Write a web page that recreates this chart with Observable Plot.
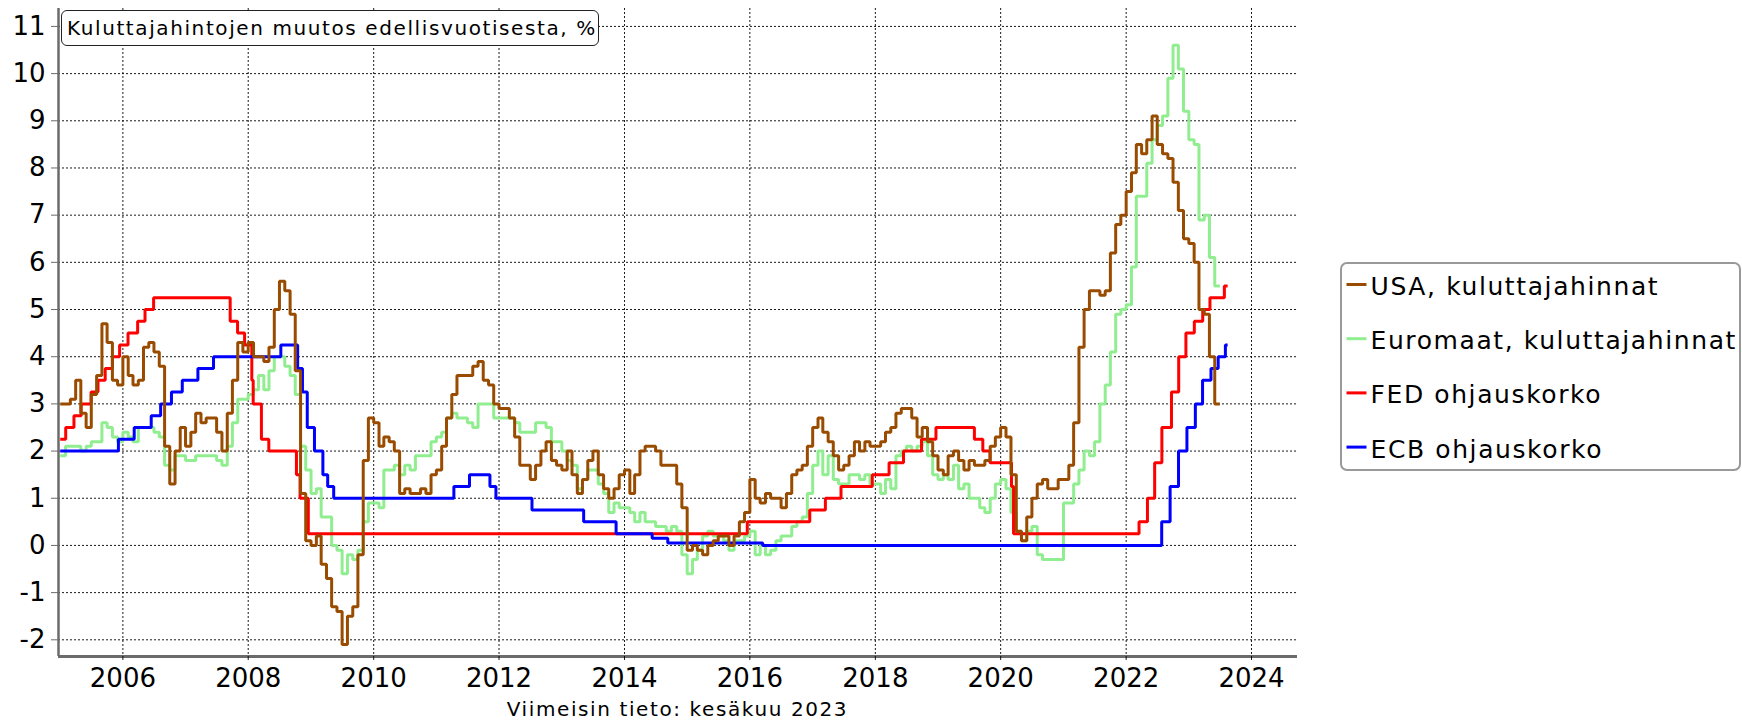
<!DOCTYPE html>
<html>
<head>
<meta charset="utf-8">
<script src="https://cdn.jsdelivr.net/npm/d3@7"></script>
<script src="https://cdn.jsdelivr.net/npm/@observablehq/plot@0.6"></script>
<style>
  html, body { margin: 0; padding: 0; background: #fff; }
  body { font-family: "DejaVu Sans", Verdana, sans-serif; }
  #wrap { position: relative; width: 1742px; height: 721px; overflow: hidden; }
  #chart { position: absolute; left: 0; top: 0; }
  #title { position: absolute; left: 61px; top: 9.5px; width: 536px; height: 34px; line-height: 34px;
           border: 1px solid #222; border-radius: 6px; background: #fff; font-size: 20px; padding-left: 0;
           box-sizing: content-box; white-space: nowrap; letter-spacing: 1.6px; }
  #title span { margin-left: 5px; }
  #caption { position: absolute; left: 58px; width: 1239px; top: 697px; height: 24px; line-height: 24px;
             text-align: center; font-size: 20px; white-space: nowrap; letter-spacing: 1.6px; }
  #legend { position: absolute; left: 1330px; top: 255px; }
</style>
</head>
<body>
<div id="wrap">
  <div id="chart"></div>
  <div id="title"><span>Kuluttajahintojen muutos edellisvuotisesta, %</span></div>
  <div id="caption">Viimeisin tieto: kesäkuu 2023</div>
  <svg id="legend" width="412" height="225"></svg>
</div>
<script>
// ---- Data ----
// Monthly year-on-year consumer price change, %, from January 2005 to June 2023
const usCpi = [
  3.0, 3.0, 3.1, 3.5, 2.8, 2.5, 3.2, 3.6, 4.7, 4.3, 3.5, 3.4,
  4.0, 3.6, 3.4, 3.5, 4.2, 4.3, 4.1, 3.8, 2.1, 1.3, 2.0, 2.5,
  2.1, 2.4, 2.8, 2.6, 2.7, 2.7, 2.4, 2.0, 2.8, 3.5, 4.3, 4.1,
  4.3, 4.0, 4.0, 3.9, 4.2, 5.0, 5.6, 5.4, 4.9, 3.7, 1.1, 0.1,
  0.0, 0.2, -0.4, -0.7, -1.3, -1.4, -2.1, -1.5, -1.3, -0.2, 1.8, 2.7,
  2.6, 2.1, 2.3, 2.2, 2.0, 1.1, 1.2, 1.1, 1.1, 1.2, 1.1, 1.5,
  1.6, 2.1, 2.7, 3.2, 3.6, 3.6, 3.6, 3.8, 3.9, 3.5, 3.4, 3.0,
  2.9, 2.9, 2.7, 2.3, 1.7, 1.7, 1.4, 1.7, 2.0, 2.2, 1.8, 1.7,
  1.6, 2.0, 1.5, 1.1, 1.4, 1.8, 2.0, 1.5, 1.2, 1.0, 1.2, 1.5,
  1.6, 1.1, 1.5, 2.0, 2.1, 2.1, 2.0, 1.7, 1.7, 1.7, 1.3, 0.8,
  -0.1, 0.0, -0.1, -0.2, 0.0, 0.1, 0.2, 0.2, 0.0, 0.2, 0.5, 0.7,
  1.4, 1.0, 0.9, 1.1, 1.0, 1.0, 0.8, 1.1, 1.5, 1.6, 1.7, 2.1,
  2.5, 2.7, 2.4, 2.2, 1.9, 1.6, 1.7, 1.9, 2.2, 2.0, 2.2, 2.1,
  2.1, 2.2, 2.4, 2.5, 2.8, 2.9, 2.9, 2.7, 2.3, 2.5, 2.2, 1.9,
  1.6, 1.5, 1.9, 2.0, 1.8, 1.6, 1.8, 1.7, 1.7, 1.8, 2.1, 2.3,
  2.5, 2.3, 1.5, 0.3, 0.1, 0.6, 1.0, 1.3, 1.4, 1.2, 1.2, 1.4,
  1.4, 1.7, 2.6, 4.2, 5.0, 5.4, 5.4, 5.3, 5.4, 6.2, 6.8, 7.0,
  7.5, 7.9, 8.5, 8.3, 8.6, 9.1, 8.5, 8.3, 8.2, 7.7, 7.1, 6.5,
  6.4, 6.0, 5.0, 4.9, 4.0, 3.0
];
const euCpi = [
  1.9, 2.1, 2.1, 2.1, 2.0, 2.1, 2.2, 2.2, 2.6, 2.5, 2.3, 2.2,
  2.4, 2.3, 2.2, 2.5, 2.5, 2.5, 2.4, 2.3, 1.7, 1.6, 1.9, 1.9,
  1.8, 1.8, 1.9, 1.9, 1.9, 1.9, 1.8, 1.7, 2.1, 2.6, 3.1, 3.1,
  3.2, 3.3, 3.6, 3.3, 3.7, 4.0, 4.0, 3.8, 3.6, 3.2, 2.1, 1.6,
  1.1, 1.2, 0.6, 0.6, 0.0, -0.1, -0.6, -0.2, -0.3, -0.1, 0.5, 0.9,
  0.9, 0.8, 1.6, 1.6, 1.7, 1.5, 1.7, 1.6, 1.9, 1.9, 1.9, 2.2,
  2.3, 2.4, 2.7, 2.8, 2.7, 2.7, 2.6, 2.5, 3.0, 3.0, 3.0, 2.7,
  2.7, 2.7, 2.7, 2.6, 2.4, 2.4, 2.4, 2.6, 2.6, 2.5, 2.2, 2.2,
  2.0, 1.8, 1.7, 1.2, 1.4, 1.6, 1.6, 1.3, 1.1, 0.7, 0.9, 0.8,
  0.8, 0.7, 0.5, 0.7, 0.5, 0.5, 0.4, 0.4, 0.3, 0.4, 0.3, -0.2,
  -0.6, -0.3, -0.1, 0.2, 0.3, 0.2, 0.2, 0.1, -0.1, 0.1, 0.1, 0.2,
  0.3, -0.2, 0.0, -0.2, -0.1, 0.1, 0.2, 0.2, 0.4, 0.5, 0.6, 1.1,
  1.7, 2.0, 1.5, 1.9, 1.4, 1.3, 1.3, 1.5, 1.5, 1.4, 1.5, 1.3,
  1.3, 1.1, 1.4, 1.2, 1.9, 2.0, 2.1, 2.0, 2.1, 2.2, 1.9, 1.5,
  1.4, 1.5, 1.4, 1.7, 1.2, 1.3, 1.0, 1.0, 0.8, 0.7, 1.0, 1.3,
  1.4, 1.2, 0.7, 0.3, 0.1, 0.3, 0.4, -0.2, -0.3, -0.3, -0.3, -0.3,
  0.9, 0.9, 1.3, 1.6, 2.0, 1.9, 2.2, 3.0, 3.4, 4.1, 4.9, 5.0,
  5.1, 5.9, 7.4, 7.4, 8.1, 8.6, 8.9, 9.1, 9.9, 10.6, 10.1, 9.2,
  8.6, 8.5, 6.9, 7.0, 6.1, 5.5
];
const cpiStartYear = 2005;

// Policy rates: dates of change and new level, %
const fedDates = ["2005-01-01","2005-02-02","2005-03-22","2005-05-03","2005-06-30","2005-08-09","2005-09-20",
  "2005-11-01","2005-12-13","2006-01-31","2006-03-28","2006-05-10","2006-06-29","2007-09-18","2007-10-31",
  "2007-12-11","2008-01-22","2008-01-30","2008-03-18","2008-04-30","2008-10-08","2008-10-29","2008-12-16",
  "2015-12-17","2016-12-15","2017-03-16","2017-06-15","2017-12-14","2018-03-22","2018-06-14","2018-09-27",
  "2018-12-20","2019-08-01","2019-09-19","2019-10-31","2020-03-04","2020-03-16","2022-03-17","2022-05-05",
  "2022-06-16","2022-07-28","2022-09-22","2022-11-03","2022-12-15","2023-02-02","2023-03-23","2023-05-04",
  "2023-07-27"];
const fedRates = [2.25, 2.5, 2.75, 3.0, 3.25, 3.5, 3.75,
  4.0, 4.25, 4.5, 4.75, 5.0, 5.25, 4.75, 4.5,
  4.25, 3.5, 3.0, 2.25, 2.0, 1.5, 1.0, 0.25,
  0.5, 0.75, 1.0, 1.25, 1.5, 1.75, 2.0, 2.25,
  2.5, 2.25, 2.0, 1.75, 1.25, 0.25, 0.5, 1.0,
  1.75, 2.5, 3.25, 4.0, 4.5, 4.75, 5.0, 5.25,
  5.5];
const ecbDates = ["2005-01-01","2005-12-06","2006-03-08","2006-06-15","2006-08-09","2006-10-11","2006-12-13",
  "2007-03-14","2007-06-13","2008-07-09","2008-10-15","2008-11-12","2008-12-10","2009-01-21","2009-03-11",
  "2009-04-08","2009-05-13","2011-04-13","2011-07-13","2011-11-09","2011-12-14","2012-07-11","2013-05-08",
  "2013-11-13","2014-06-11","2014-09-10","2016-03-16","2022-07-27","2022-09-14","2022-11-02","2022-12-21",
  "2023-02-08","2023-03-22","2023-05-10","2023-06-21","2023-08-02"];
const ecbRates = [2.0, 2.25, 2.5, 2.75, 3.0, 3.25, 3.5,
  3.75, 4.0, 4.25, 3.75, 3.25, 2.5, 2.0, 1.5,
  1.25, 1.0, 1.25, 1.5, 1.25, 1.0, 0.75, 0.5,
  0.25, 0.15, 0.05, 0.0, 0.5, 1.25, 2.0, 2.5,
  3.0, 3.5, 3.75, 4.0, 4.25];
const rateEndDate = "2023-08-15";

const yTicks = [-2, -1, 0, 1, 2, 3, 4, 5, 6, 7, 8, 9, 10, 11];
const xTickYears = [2006, 2008, 2010, 2012, 2014, 2016, 2018, 2020, 2022, 2024];

const seriesNames = ["USA, kuluttajahinnat", "Euromaat, kuluttajahinnat", "FED ohjauskorko", "ECB ohjauskorko"];
const seriesColors = ["#994c00", "#90ee90", "#ff0000", "#0000ff"];

// ---- Build tables ----
function monthlyRows(values) {
  const rows = values.map((v, i) => ({date: new Date(Date.UTC(cpiStartYear, i, 1)), value: v}));
  rows.push({date: new Date(Date.UTC(cpiStartYear, values.length, 1)), value: values[values.length - 1]});
  return rows;
}
function stepRows(dates, rates, end) {
  const rows = dates.map((d, i) => ({date: new Date(d + "T00:00:00Z"), value: rates[i]}));
  rows.push({date: new Date(end + "T00:00:00Z"), value: rates[rates.length - 1]});
  return rows;
}
const usRows = monthlyRows(usCpi);
const euRows = monthlyRows(euCpi);
const fedRows = stepRows(fedDates, fedRates, rateEndDate);
const ecbRows = stepRows(ecbDates, ecbRates, rateEndDate);
const xTicks = xTickYears.map(y => new Date(Date.UTC(y, 0, 1)));

const xStart = new Date(Date.UTC(2004, 11, 22));
const xEnd = new Date(Date.UTC(2024, 8, 25));
const yMin = -2.354, yMax = 11.38;

const lineOpts = (color) => ({x: "date", y: "value", stroke: color, strokeWidth: 3,
  curve: "step-after", strokeLinejoin: "miter", strokeLinecap: "butt"});

const chart = Plot.plot({
  width: 1300,
  height: 697,
  marginLeft: 58,
  marginRight: 3,
  marginTop: 8,
  marginBottom: 41,
  style: {fontFamily: "'DejaVu Sans', Verdana, sans-serif", fontSize: "26px", color: "#000", background: "transparent", overflow: "visible"},
  x: {type: "utc", domain: [xStart, xEnd]},
  y: {domain: [yMin, yMax]},
  marks: [
    Plot.gridY(yTicks, {stroke: "#000", strokeOpacity: 0.9, strokeWidth: 1, strokeDasharray: "2,2"}),
    Plot.gridX(xTicks, {stroke: "#000", strokeOpacity: 0.9, strokeWidth: 1, strokeDasharray: "2,2"}),
    Plot.line(euRows, lineOpts(seriesColors[1])),
    Plot.line(fedRows, lineOpts(seriesColors[2])),
    Plot.line(ecbRows, lineOpts(seriesColors[3])),
    Plot.line(usRows, lineOpts(seriesColors[0])),
    Plot.ruleX([xStart], {stroke: "#6b6b6b", strokeWidth: 2.5}),
    Plot.ruleY([yMin], {stroke: "#6b6b6b", strokeWidth: 3}),
    Plot.axisY(yTicks, {tickSize: 7, tickPadding: 6, stroke: "#6b6b6b", strokeOpacity: 1,
      tickFormat: d => String(d), fontSize: 26, fill: "#000", label: null}),
    Plot.axisX(xTicks, {tickSize: 4, tickPadding: 8, stroke: "#000", strokeOpacity: 0.9,
      tickFormat: d => String(d.getUTCFullYear()), fontSize: 26, fill: "#000", label: null})
  ]
});
document.getElementById("chart").appendChild(chart);

// ---- Legend (HTML-side SVG, to the right of the chart) ----
const lg = d3.select("#legend");
lg.append("rect").attr("x", 11).attr("y", 8).attr("width", 399).attr("height", 207)
  .attr("rx", 6).attr("ry", 6).attr("fill", "#fff").attr("stroke", "#999").attr("stroke-width", 2);
seriesNames.forEach((name, i) => {
  const base = 40 + i * 54.2;
  lg.append("line").attr("x1", 16.5).attr("x2", 36.5).attr("y1", base - 10.5).attr("y2", base - 10.5)
    .attr("stroke", seriesColors[i]).attr("stroke-width", 3);
  lg.append("text").attr("x", 40.5).attr("y", base).text(name)
    .attr("font-family", "'DejaVu Sans', Verdana, sans-serif").attr("font-size", 25)
    .attr("letter-spacing", 1.6).attr("fill", "#000");
});
</script>
</body>
</html>
